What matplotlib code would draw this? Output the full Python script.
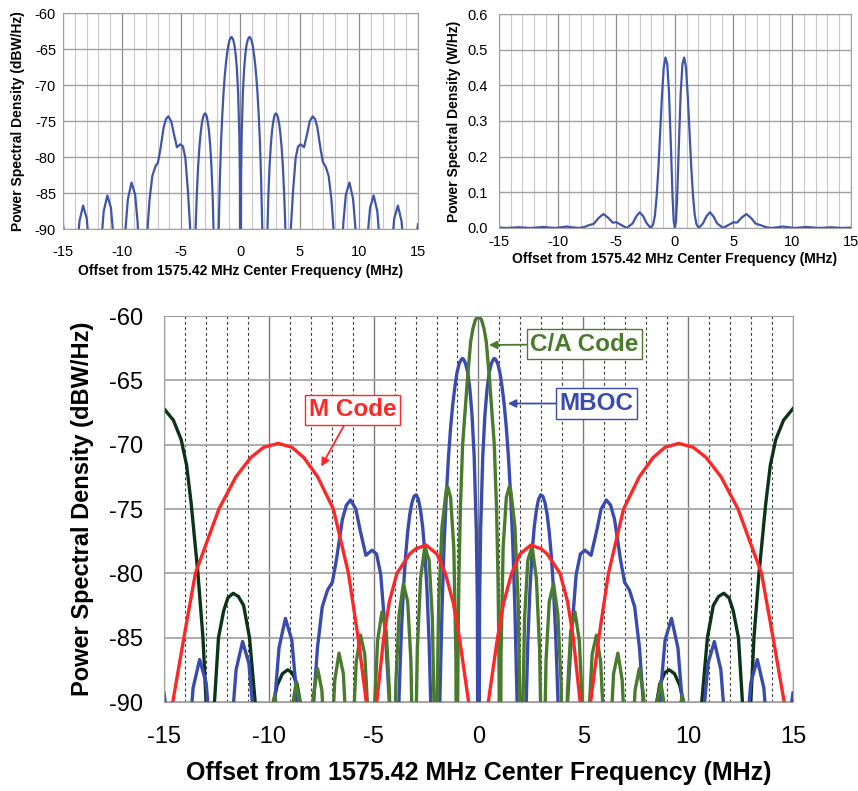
import numpy as np
import matplotlib
matplotlib.use("Agg")
import matplotlib.pyplot as plt

plt.rcParams['font.family'] = ['Liberation Sans', 'DejaVu Sans']
plt.rcParams['axes.unicode_minus'] = False

# positive half of each spectrum (MHz offset, dBW/Hz); the plots are mirrored about 0
mboc_f = [0.0, 0.051, 0.102, 0.205, 0.307, 0.409, 0.512, 0.614, 0.716, 0.767, 0.818, 0.921,
          1.023, 1.125, 1.228, 1.330, 1.432, 1.535, 1.637, 1.739, 1.841, 1.95, 2.046,
          2.148, 2.251, 2.353, 2.455, 2.558, 2.660, 2.762, 2.864, 2.967, 3.069, 3.171, 3.274,
          3.376, 3.478, 3.581, 3.683, 3.785, 3.887, 4.092,
          4.2, 4.25, 4.44, 4.66, 4.86, 5.08, 5.37, 5.65, 5.85, 6.1, 6.3, 6.49, 6.77, 6.97,
          7.2, 7.45, 7.68, 7.84, 8.0, 8.184,
          8.491, 8.593, 8.696, 8.900, 9.207, 9.514, 9.719, 9.821, 9.923, 10.23,
          10.64, 10.74, 10.95, 11.25, 11.56, 11.76, 11.87, 12.28,
          12.79, 12.99, 13.30, 13.61, 13.81, 14.32, 14.6, 15.0]
mboc_db = [-120, -82.6, -76.7, -70.9, -67.7, -65.7, -64.4, -63.7, -63.35, -63.3, -63.37, -63.7,
           -64.4, -65.5, -66.9, -68.7, -71.0, -74.0, -77.7, -82.8, -89.9, -100, -120,
           -103, -91.7, -85.4, -81.3, -78.4, -76.4, -75.1, -74.25, -73.9, -74.0, -74.5, -75.4,
           -76.8, -78.7, -81.3, -84.8, -89.5, -96.4, -120,
           -93, -90, -84.7, -80.1, -78.5, -78.2, -78.6, -76.6, -75.0, -74.3, -74.7, -75.8, -78.9, -80.7,
           -81.3, -82.6, -85.8, -89.5, -97, -120,
           -96.5, -92.2, -89.0, -85.2, -83.5, -85.8, -90.0, -93.3, -97.9, -120,
           -94.0, -90.9, -87.0, -85.3, -87.5, -91.7, -95.0, -120,
           -92.4, -88.5, -86.7, -88.9, -93.1, -120, -94, -89.3]

ca_f = [0.0, 0.147, 0.267, 0.373, 0.53, 0.755, 0.863, 0.928, 0.969, 0.992, 1.023,
        1.074, 1.176, 1.330, 1.463, 1.535, 1.739, 1.893, 1.995, 2.046,
        2.097, 2.199, 2.353, 2.558, 2.762, 2.916, 3.018, 3.069,
        3.120, 3.222, 3.376, 3.581, 3.785, 3.939, 4.041, 4.092,
        4.143, 4.245, 4.399, 4.604, 4.808, 4.962, 5.064, 5.115,
        5.166, 5.268, 5.422, 5.627, 5.831, 5.985, 6.087, 6.138,
        6.291, 6.445, 6.650, 6.854, 7.008, 7.161,
        7.314, 7.468, 7.673, 7.877, 8.031, 8.184,
        8.337, 8.491, 8.696, 8.900, 9.054, 9.207,
        9.514, 9.720, 9.923, 10.23, 15.0]
ca_db = [-60, -60.3, -61, -62, -65, -70, -75, -80, -85, -90, -120,
         -86.5, -78.0, -74.1, -73.3, -73.5, -76.4, -82.2, -91.9, -120,
         -92.3, -83.5, -79.0, -77.9, -80.4, -85.9, -95.5, -120,
         -95.7, -86.8, -82.2, -80.8, -83.2, -88.5, -98.0, -120,
         -98.2, -89.2, -84.5, -83.0, -85.2, -90.5, -100.0, -120,
         -100.1, -91.0, -86.3, -84.8, -86.9, -92.2, -101.5, -120,
         -92.6, -87.8, -86.2, -88.3, -93.5, -120,
         -93.9, -89.1, -87.4, -89.5, -94.7, -120,
         -95.0, -90.2, -88.5, -90.6, -96.0, -120,
         -91.2, -89.5, -91.5, -120, -120]

m_f = [0.0, 0.2, 0.47, 0.91, 1.2, 1.58, 1.98, 2.5, 3.0, 3.28, 3.89, 4.25, 4.52, 4.85, 5.0, 5.115,
       5.2, 5.35, 5.74, 6.2, 6.92, 7.67, 8.33, 8.9, 9.55, 10.24, 10.86, 11.57, 12.38, 13.5,
       14.05, 14.58, 15.0, 15.345]
m_db = [-120, -97, -90, -85, -82.3, -80, -78.5, -77.8, -78.1, -78.5, -80, -82.2, -85, -90, -94, -120,
        -100, -90, -85, -80, -75, -72.5, -71, -70.2, -69.9, -70.2, -71, -72.5, -75, -80,
        -85, -90, -94, -120]

outer_f = [8.25, 8.45, 8.65, 8.9, 9.1, 9.35, 9.6, 9.85, 10.0, 10.25,
           10.45, 10.65, 10.92, 11.2, 11.45, 11.7, 11.95, 12.15, 12.4, 12.59, 12.8,
           12.99, 13.14, 13.38, 13.7, 13.92, 14.18, 14.55, 15.0]
outer_db = [-100, -90.5, -88.6, -87.7, -87.5, -87.8, -88.7, -90.5, -95, -110,
            -100, -90, -85, -82.5, -81.8, -81.55, -81.9, -82.9, -85, -90, -110,
            -90, -85, -80, -74.6, -71.6, -69.6, -68.1, -67.2]

# MBOC in linear units (x1e-6 W/Hz), positive half
lin_f = [0.0, 0.1, 0.2, 0.35, 0.5, 0.65, 0.8, 0.95, 1.1, 1.25, 1.4, 1.55, 1.7, 1.85, 2.05,
         2.4, 2.7, 3.0, 3.3, 3.6, 4.1, 4.5, 5.0, 5.3, 5.7, 6.1, 6.5, 6.9, 7.3, 7.8, 8.2,
         8.8, 9.2, 9.7, 10.2, 10.8, 11.2, 11.7, 12.3, 12.9, 13.3, 13.8, 14.3, 15.0]
lin_w = [0.0, 0.02, 0.09, 0.24, 0.38, 0.46, 0.478, 0.45, 0.37, 0.27, 0.17, 0.09, 0.035, 0.01, 0.0,
         0.013, 0.033, 0.044, 0.032, 0.013, 0.0, 0.007, 0.016, 0.015, 0.029, 0.039, 0.028, 0.012,
         0.008, 0.002, 0.0, 0.002, 0.004, 0.002, 0.0, 0.0015, 0.003, 0.0015, 0.0, 0.001, 0.002,
         0.001, 0.0, 0.001]

x_ticks = [-15, -10, -5, 0, 5, 10, 15]
db_ticks = [-90, -85, -80, -75, -70, -65, -60]
lin_ticks = [0.0, 0.1, 0.2, 0.3, 0.4, 0.5, 0.6]

XLABEL = 'Offset from 1575.42 MHz Center Frequency (MHz)'
YLABEL_DB = 'Power Spectral Density (dBW/Hz)'
YLABEL_LIN = 'Power Spectral Density (W/Hz)'

BLUE = '#3a4bb0'
TOP_BLUE = '#4055a8'
RED = '#ff2626'
OLIVE = '#4a7a2c'
DARK = '#0b3318'
FRAME = '#a0a0a0'


def mirror(f, v):
    f = np.asarray(f, float)
    v = np.asarray(v, float)
    return np.concatenate((-f[::-1], f)), np.concatenate((v[::-1], v))


def small_grid(ax, ylines):
    for x in range(-15, 16):
        if x % 5 == 0:
            ax.axvline(x, color='#8c8c8c', lw=0.9, zorder=0)
        else:
            ax.axvline(x, color='#c8c8c8', lw=0.8, zorder=0)
    for y in ylines:
        ax.axhline(y, color='#a0a0a0', lw=1.0, zorder=0)
    for s in ax.spines.values():
        s.set_color(FRAME)
    ax.tick_params(length=0, labelsize=10.5)


fig = plt.figure(figsize=(8.58, 7.91), dpi=100)

# top left: MBOC in dB
ax1 = fig.add_axes([0.0734, 0.7101, 0.4138, 0.2731])
small_grid(ax1, db_ticks)
x, y = mirror(mboc_f, mboc_db)
ax1.plot(x, y, color=TOP_BLUE, lw=1.6)
ax1.set_xlim(-15, 15)
ax1.set_ylim(-90, -60)
ax1.set_xticks(x_ticks)
ax1.set_yticks(db_ticks)
ax1.tick_params(axis='x', pad=11)
ax1.tick_params(axis='y', pad=5)
ax1.set_xlabel(XLABEL, fontsize=10, fontweight='bold', va='center')
ax1.set_ylabel(YLABEL_DB, fontsize=10, fontweight='bold', va='center')
ax1.xaxis.set_label_coords(0.5, -0.195)
ax1.yaxis.set_label_coords(-0.128, 0.5)

# top right: MBOC linear
ax2 = fig.add_axes([0.5816, 0.7118, 0.4099, 0.2705])
small_grid(ax2, lin_ticks)
x, y = mirror(lin_f, lin_w)
ax2.plot(x, y, color=TOP_BLUE, lw=1.6)
ax2.set_xlim(-15, 15)
ax2.set_ylim(0, 0.6)
ax2.set_xticks(x_ticks)
ax2.set_yticks(lin_ticks)
ax2.set_yticklabels(['%.1f' % t for t in lin_ticks])
ax2.tick_params(axis='x', pad=5)
ax2.tick_params(axis='y', pad=8)
ax2.set_xlabel(XLABEL, fontsize=10, fontweight='bold', va='center')
ax2.set_ylabel(YLABEL_LIN, fontsize=10, fontweight='bold', va='center')
ax2.xaxis.set_label_coords(0.5, -0.145)
ax2.yaxis.set_label_coords(-0.128, 0.5)

# bottom: all signals
ax = fig.add_axes([0.1911, 0.1125, 0.7331, 0.488])
for xv in range(-15, 16):
    if xv % 5 == 0:
        ax.axvline(xv, color='#7a7a7a', lw=1.0, zorder=0)
    else:
        ax.axvline(xv, color='#3a3a3a', lw=0.8, ls=(0, (2.5, 2.5)), zorder=0)
for yv in db_ticks:
    ax.axhline(yv, color='#a6a6a6', lw=1.3, zorder=0)
for s in ax.spines.values():
    s.set_color(FRAME)

x, y = mirror(outer_f, outer_db)
ax.plot(x, y, color=DARK, lw=2.4)
x, y = mirror(mboc_f, mboc_db)
ax.plot(x, y, color=BLUE, lw=2.4)
x, y = mirror(ca_f, ca_db)
ax.plot(x, y, color=OLIVE, lw=2.4)
x, y = mirror(m_f, m_db)
ax.plot(x, y, color=RED, lw=2.4)

ax.set_xlim(-15, 15)
ax.set_ylim(-90, -60)
ax.set_xticks(x_ticks)
ax.set_yticks(db_ticks)
ax.tick_params(length=0, labelsize=17)
ax.tick_params(axis='x', pad=17)
ax.tick_params(axis='y', pad=15)
ax.set_xlabel(XLABEL, fontsize=18, fontweight='bold', va='center')
ax.set_ylabel(YLABEL_DB, fontsize=17, fontweight='bold', va='center')
ax.xaxis.set_label_coords(0.5, -0.184)
ax.yaxis.set_label_coords(-0.129, 0.5)

notes = [('M Code', RED, (-6.0, -67.3), (-7.5, -71.7)),
         ('C/A Code', OLIVE, (5.06, -62.2), (0.5, -62.25)),
         ('MBOC', BLUE, (5.64, -66.8), (1.4, -66.8))]
for label, col, txt, tip in notes:
    ax.annotate(label, xy=tip, xytext=txt, color=col, fontsize=17.5, fontweight='bold',
                ha='center', va='center', zorder=6,
                bbox=dict(boxstyle='square,pad=0.15', fc='white', ec=col, lw=1.0),
                arrowprops=dict(arrowstyle='-|>', color=col, lw=1.3, mutation_scale=12,
                                shrinkA=0, shrinkB=0))

fig.savefig('out.png', dpi=100)
